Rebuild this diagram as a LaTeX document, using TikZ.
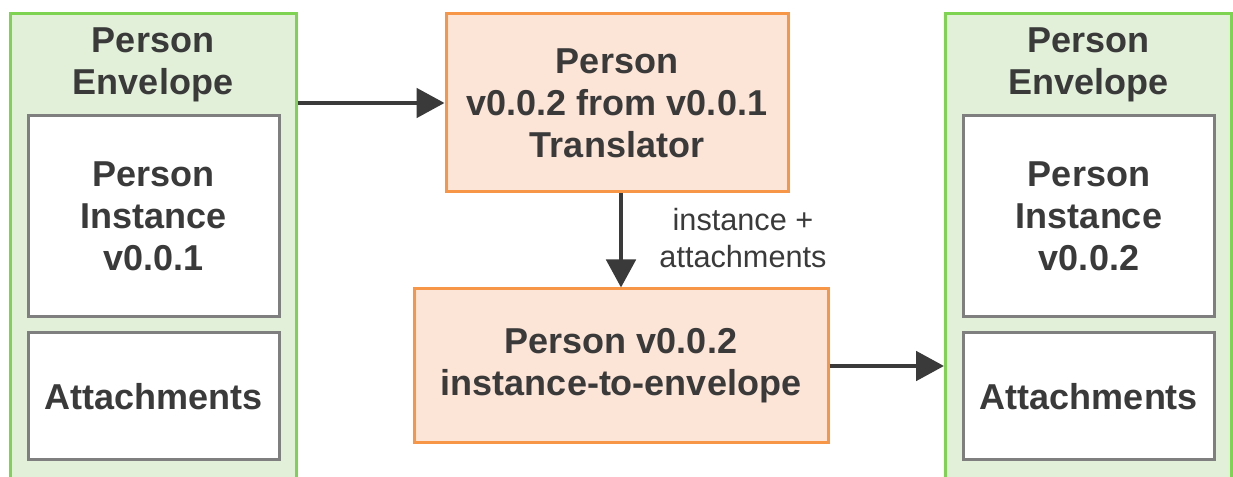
\documentclass[tikz,border=0pt]{standalone}
\usepackage{fontspec}
\setmainfont{Liberation Sans}
\usepackage{tikz}
\usetikzlibrary{arrows.meta}
\definecolor{envline}{HTML}{7ED350}
\definecolor{envfill}{HTML}{E2F0D9}
\definecolor{stepline}{HTML}{F79646}
\definecolor{stepfill}{HTML}{FCE4D6}
\definecolor{partline}{HTML}{7F7F7F}
\definecolor{inktext}{HTML}{3A3A3A}

\begin{document}
\begin{tikzpicture}[x=0.75pt,y=-0.75pt,
  envbox/.style={draw=envline,fill=envfill,line width=2.25pt,minimum width=214.5pt,minimum height=379.5pt},
  partbox/.style={draw=partline,fill=white,line width=2.25pt,minimum width=188.25pt,align=center,
    text=inktext,font=\fontsize{27}{31.5}\selectfont\bfseries},
  stepbox/.style={draw=stepline,fill=stepfill,line width=2.25pt,align=center,
    text=inktext,font=\fontsize{27}{31.5}\selectfont\bfseries},
  title/.style={align=center,text=inktext,font=\fontsize{27}{31.5}\selectfont\bfseries},
  flow/.style={draw=inktext,line width=3pt,-{Triangle[length=21pt,width=22pt]}}]
  \useasboundingbox (0,0) rectangle (1233,477);
  \clip (0,0) rectangle (1233,477);

  \node[envbox] (envL) at (153,267) {};
  \node[title] (envLtitle) at (153,65) {Person\\Envelope};
  \node[partbox,minimum height=150.75pt] (instL) at (153.5,216.5) {Person\\Instance\\v0.0.1};
  \node[partbox,minimum height=95.25pt] (attL) at (153.5,396.5) {Attachments};

  \node[envbox] (envR) at (1088.5,267) {};
  \node[title] (envRtitle) at (1088.5,65) {Person\\Envelope};
  \node[partbox,minimum height=150.75pt] (instR) at (1089,216.5) {Person\\Instance\\v0.0.2};
  \node[partbox,minimum height=95.25pt] (attR) at (1089,396.5) {Attachments};

  \node[stepbox,minimum width=256.5pt,minimum height=133.5pt] (trans) at (617,103) {Person\\v0.0.2 from v0.0.1\\Translator};
  \node[stepbox,minimum width=310.5pt,minimum height=115.5pt] (inst2env) at (621,366) {Person v0.0.2\\instance-to-envelope};

  \draw[flow] (envL.east |- trans.west) -- (trans.west);
  \draw[flow] (inst2env.north |- trans.south) -- (inst2env.north)
    node (flowlbl) [midway,anchor=west,xshift=24pt,yshift=2pt,align=center,text=inktext,
      font=\fontsize{23}{27.75}\selectfont] {instance +\\attachments};
  \draw[flow] (inst2env.east) -- (inst2env.east -| envR.west);
\end{tikzpicture}
\end{document}
